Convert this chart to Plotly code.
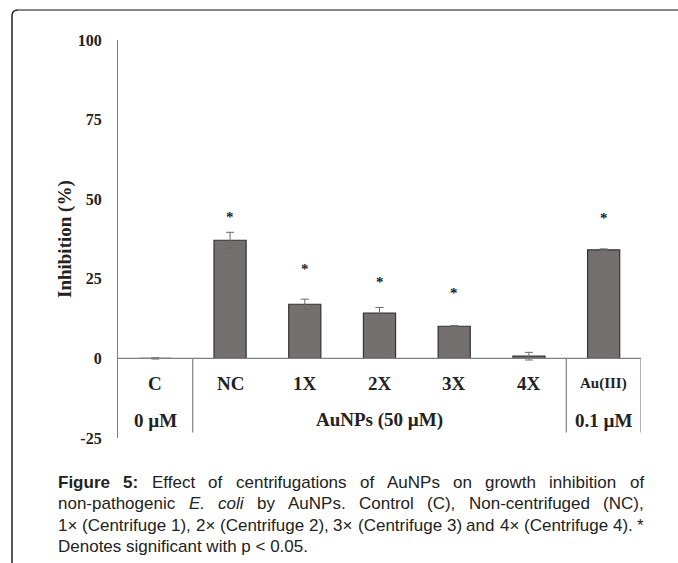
import re
import plotly.graph_objects as go

# ---- data ----
categories = ["C", "NC", "1X", "2X", "3X", "4X", "Au(III)"]
values = [0.0, 37.1, 17.0, 14.2, 10.1, 0.7, 34.1]
errors = [0.2, 2.5, 1.6, 1.8, 0.2, 1.2, 0.3]
significant = [False, True, True, True, True, False, True]
star_levels = [0, 44.3, 28.0, 24.0, 20.5, 0, 44.0]
group_labels = ["0 µM", "AuNPs (50 µM)", "0.1 µM"]
group_centers = [0, 3, 6]
separators = [0.5, 5.5, 6.5]
y_ticks = [-25, 0, 25, 50, 75, 100]
y_ticktext = ["-25", "0", "25", "50", "75", "100"]
caption_lines = [
    "<b>Figure</b> <b>5:</b> Effect of centrifugations of AuNPs on growth inhibition of",
    "non-pathogenic <i>E.</i> <i>coli</i> by AuNPs. Control (C), Non-centrifuged (NC),",
    "1× (Centrifuge 1), 2× (Centrifuge 2), 3× (Centrifuge 3) and 4× (Centrifuge 4). *",
    "Denotes significant with p &lt; 0.05.",
]

W, H = 678, 563
L, R, T, B = 118, 37, 40, 125
PW, PH = W - L - R, H - T - B

def px(x):
    return (x - L) / PW

def py(y):
    return (H - B - y) / PH

serif = "Liberation Serif, Times New Roman, serif"
sans = "Liberation Sans, Arial, sans-serif"

# Arial / Liberation Sans advance widths (1/1000 em) for justification
REG = {' ': 278, '(': 333, ')': 333, '*': 389, ',': 278, '-': 333, '.': 278, ':': 278,
       '<': 584, '×': 584,
       'A': 667, 'B': 667, 'C': 722, 'D': 722, 'E': 667, 'F': 611, 'G': 778, 'H': 722,
       'I': 278, 'J': 500, 'K': 667, 'L': 556, 'M': 833, 'N': 722, 'O': 778, 'P': 667,
       'Q': 778, 'R': 722, 'S': 667, 'T': 611, 'U': 722, 'V': 667, 'W': 944, 'X': 667,
       'Y': 667, 'Z': 611,
       'a': 556, 'b': 556, 'c': 500, 'd': 556, 'e': 556, 'f': 278, 'g': 556, 'h': 556,
       'i': 222, 'j': 222, 'k': 500, 'l': 222, 'm': 833, 'n': 556, 'o': 556, 'p': 556,
       'q': 556, 'r': 333, 's': 500, 't': 278, 'u': 556, 'v': 500, 'w': 722, 'x': 500,
       'y': 500, 'z': 500}
for d in "0123456789":
    REG[d] = 556
BOLD = dict(REG)
BOLD.update({'F': 611, 'i': 278, 'g': 611, 'u': 611, 'r': 389, 'e': 556, ':': 333})

CAP_SIZE = 17
CAP_LEFT, CAP_RIGHT = 57, 643

def word_width(w):
    bold = w.startswith("<b>")
    plain = re.sub(r"<[^>]+>", "", w).replace("&lt;", "<")
    tab = BOLD if bold else REG
    return sum(tab.get(ch, 556) for ch in plain) * CAP_SIZE / 1000.0

xs = list(range(len(categories)))

fig = go.Figure()
fig.add_trace(go.Bar(
    x=xs, y=values, width=0.43,
    marker=dict(color="#747070", line=dict(color="#333333", width=1.2)),
    error_y=dict(type="data", array=errors, visible=True, color="#6a6a6a",
                 thickness=1, width=4),
    showlegend=False,
))

annotations = []
for i, (c, s, lv) in enumerate(zip(categories, significant, star_levels)):
    size = 15 if c == "Au(III)" else 19
    annotations.append(dict(x=i, y=-7.9, xref="x", yref="y", text=f"<b>{c}</b>",
                            showarrow=False, font=dict(family=serif, size=size, color="#222"),
                            yanchor="middle"))
    if s:
        annotations.append(dict(x=i, y=lv, xref="x", yref="y", text="<b>*</b>",
                                showarrow=False, font=dict(family=serif, size=15, color="#222"),
                                yanchor="middle"))
for g, gx in zip(group_labels, group_centers):
    annotations.append(dict(x=gx, y=-19.5, xref="x", yref="y", text=f"<b>{g}</b>",
                            showarrow=False, font=dict(family=serif, size=19, color="#222"),
                            yanchor="middle"))

annotations.append(dict(x=px(65), y=py(239), xref="paper", yref="paper",
                        text="<b>Inhibition (%)</b>", textangle=-90, showarrow=False,
                        font=dict(family=serif, size=19, color="#222"),
                        xanchor="center", yanchor="middle"))

cap_y = [482, 503.5, 525, 546.5]
for li, (line, yy) in enumerate(zip(caption_lines, cap_y)):
    font = dict(family=sans, size=CAP_SIZE, color="#222")
    if li == len(caption_lines) - 1:
        annotations.append(dict(x=px(CAP_LEFT), y=py(yy), xref="paper", yref="paper",
                                text=line, showarrow=False, font=font,
                                xanchor="left", yanchor="middle", borderpad=0))
        continue
    words = line.split(" ")
    widths = [word_width(w) for w in words]
    gap = (CAP_RIGHT - CAP_LEFT - sum(widths)) / (len(words) - 1)
    cx = CAP_LEFT
    for w, ww in zip(words, widths):
        annotations.append(dict(x=px(cx), y=py(yy), xref="paper", yref="paper",
                                text=w, showarrow=False, font=font,
                                xanchor="left", yanchor="middle", borderpad=0))
        cx += ww + gap

shapes = [dict(type="line", xref="x", yref="y", x0=-0.5, x1=6.5, y0=0, y1=0,
               line=dict(color="#808080", width=1.2))]
for sx in separators:
    shapes.append(dict(type="line", xref="x", yref="y", x0=sx, x1=sx, y0=0, y1=-23.3,
                       line=dict(color="#808080", width=1.2)))

left_frame = (f"M {px(12)},{py(563)} L {px(12)},{py(16)} "
              f"Q {px(12)},{py(10)} {px(18)},{py(10)}")
shapes.append(dict(type="path", xref="paper", yref="paper", path=left_frame,
                   line=dict(color="#222", width=1.5)))
shapes.append(dict(type="line", xref="paper", yref="paper", x0=px(18), x1=px(678),
                   y0=py(10), y1=py(10), line=dict(color="#888", width=2)))

fig.update_layout(
    width=W, height=H,
    margin=dict(l=L, r=R, t=T, b=B),
    paper_bgcolor="white", plot_bgcolor="white",
    xaxis=dict(range=[-0.5, 6.5], visible=False),
    yaxis=dict(range=[-25, 100], tickvals=y_ticks, ticktext=y_ticktext,
               showgrid=False, zeroline=False,
               showline=True, linecolor="#808080", linewidth=1.2, ticks="",
               ticklabelstandoff=12,
               tickfont=dict(family=serif, size=16, color="#222", weight="bold")),
    annotations=annotations,
    shapes=shapes,
)

fig.write_html("out.html")
